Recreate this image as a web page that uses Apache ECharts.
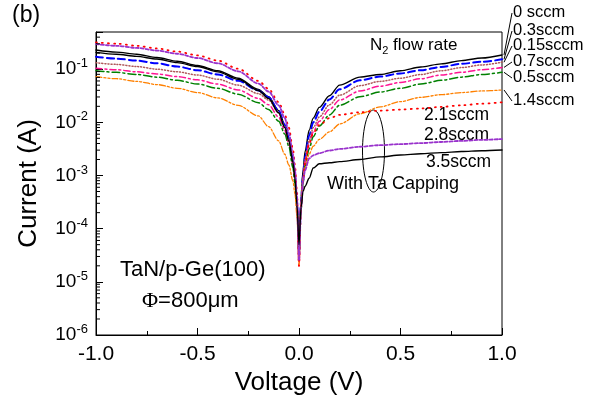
<!DOCTYPE html>
<html>
<head>
<meta charset="utf-8">
<script src="https://cdn.jsdelivr.net/npm/echarts@6/dist/echarts.min.js"></script>
<style>
  html, body { margin: 0; padding: 0; background: #fff; }
  #chart { width: 601px; height: 401px; }
</style>
</head>
<body>
<div id="chart"></div>
<script>
// I-V curves of TaN/p-Ge(100) diodes for several N2 flow rates
const voltage = [-1.0, -0.9, -0.8, -0.7, -0.6, -0.5, -0.4, -0.3, -0.2, -0.15, -0.1, -0.07, -0.05, -0.03, -0.02, -0.01, 0,
    0.01, 0.02, 0.03, 0.05, 0.07, 0.1, 0.15, 0.2, 0.3, 0.4, 0.5, 0.6, 0.7, 0.8, 0.9, 1.0];

const current0 = [0.229, 0.209, 0.191, 0.166, 0.141, 0.117, 0.0933, 0.0676, 0.0417, 0.0302, 0.0166, 0.00891, 0.00501, 0.002, 0.001, 3.16e-4, 3.16e-5,
    3.98e-4, 1.26e-3, 2.82e-3, 7.08e-3, 0.012, 0.0191, 0.0316, 0.0501, 0.0708, 0.0794, 0.0933, 0.11, 0.126, 0.145, 0.162, 0.185];
const current03 = [0.172, 0.158, 0.145, 0.129, 0.112, 0.0955, 0.0794, 0.0603, 0.0398, 0.0295, 0.0166, 0.00891, 0.00501, 0.002, 0.001, 3.16e-4, 3.98e-5,
    3.16e-4, 1e-3, 2.24e-3, 5.62e-3, 0.01, 0.0158, 0.0269, 0.0417, 0.0617, 0.0724, 0.0832, 0.0955, 0.11, 0.126, 0.138, 0.153];
const current015 = [0.132, 0.123, 0.112, 0.1, 0.0891, 0.0776, 0.0646, 0.0501, 0.0347, 0.0263, 0.0151, 0.00832, 0.00447, 0.00178, 8.9e-4, 2.8e-4, 2.5e-5,
    2.8e-4, 8.9e-4, 2.0e-3, 4.47e-3, 7.94e-3, 0.0126, 0.0214, 0.0324, 0.049, 0.0589, 0.0676, 0.0794, 0.0933, 0.107, 0.12, 0.135];
const current07 = [0.104, 0.0977, 0.0891, 0.0813, 0.0724, 0.0631, 0.0525, 0.0407, 0.0282, 0.0214, 0.0126, 0.00708, 0.00398, 0.00158, 7.9e-4, 2.5e-4, 2.0e-5,
    2.5e-4, 7.9e-4, 1.78e-3, 3.8e-3, 6.6e-3, 0.0105, 0.0174, 0.0263, 0.0389, 0.0479, 0.0562, 0.0661, 0.0776, 0.0871, 0.0977, 0.108];
const current05 = [0.0935, 0.0871, 0.0794, 0.0708, 0.0617, 0.0525, 0.0437, 0.0339, 0.0234, 0.0174, 0.0105, 0.00603, 0.00355, 0.00141, 7.1e-4, 2.5e-4, 3.2e-5,
    2.24e-4, 7.1e-4, 1.51e-3, 3.16e-3, 5.37e-3, 8.5e-3, 0.0138, 0.0209, 0.0302, 0.0372, 0.0437, 0.0525, 0.0617, 0.0708, 0.0794, 0.0873];
const current14 = [0.0721, 0.0661, 0.0589, 0.0513, 0.0437, 0.0363, 0.0288, 0.0209, 0.0132, 0.00832, 0.00447, 0.00251, 0.00158, 7.9e-4, 4.5e-4, 1.78e-4, 2.0e-5,
    3.16e-4, 8.9e-4, 1.41e-3, 2.51e-3, 3.55e-3, 4.79e-3, 6.6e-3, 9.3e-3, 0.0145, 0.0195, 0.0245, 0.0295, 0.0331, 0.0363, 0.0389, 0.0406];
const current21 = [0.32, 0.302, 0.275, 0.245, 0.214, 0.182, 0.145, 0.102, 0.0603, 0.0427, 0.024, 0.0141, 0.00794, 0.00316, 0.00158, 5.0e-4, 2.0e-5,
    2.5e-4, 7.9e-4, 1.78e-3, 3.98e-3, 6.3e-3, 8.9e-3, 0.012, 0.0138, 0.0155, 0.0166, 0.0174, 0.0182, 0.0195, 0.0209, 0.0224, 0.0238];
const current28 = [0.297, 0.275, 0.251, 0.224, 0.195, 0.162, 0.129, 0.0912, 0.0537, 0.038, 0.0209, 0.012, 0.0063, 0.00251, 0.00126, 3.98e-4, 2.5e-5,
    2.5e-4, 7.9e-4, 1.26e-3, 2.09e-3, 2.4e-3, 2.63e-3, 2.95e-3, 3.16e-3, 3.47e-3, 3.72e-3, 3.89e-3, 4.07e-3, 4.27e-3, 4.47e-3, 4.68e-3, 4.85e-3];
const current35 = [0.207, 0.191, 0.174, 0.155, 0.133, 0.112, 0.0891, 0.0646, 0.0398, 0.0282, 0.0151, 0.00794, 0.00447, 0.00178, 8.9e-4, 2.8e-4, 5.0e-5,
    2.5e-4, 5.0e-4, 6.3e-4, 8.9e-4, 1.38e-3, 1.66e-3, 1.74e-3, 1.82e-3, 2.0e-3, 2.24e-3, 2.43e-3, 2.57e-3, 2.69e-3, 2.82e-3, 2.92e-3, 3.02e-3];

const flowLabels = ['0 sccm', '0.3sccm', '0.15sccm', '0.7sccm', '0.5sccm', '1.4sccm', '2.1sccm', '2.8sccm', '3.5sccm'];
const yMinorTicks = [
    2e-6, 3e-6, 4e-6, 5e-6, 6e-6, 7e-6, 8e-6, 9e-6,
    2e-5, 3e-5, 4e-5, 5e-5, 6e-5, 7e-5, 8e-5, 9e-5,
    2e-4, 3e-4, 4e-4, 5e-4, 6e-4, 7e-4, 8e-4, 9e-4,
    2e-3, 3e-3, 4e-3, 5e-3, 6e-3, 7e-3, 8e-3, 9e-3,
    2e-2, 3e-2, 4e-2, 5e-2, 6e-2, 7e-2, 8e-2, 9e-2,
    2e-1, 3e-1, 4e-1
];

const FONT = '"Liberation Sans", Arial, sans-serif';

const curveStyles = [
    { data: current0, color: '#000000', width: 1.4, type: 'solid' },
    { data: current03, color: '#0000ff', width: 2, type: [7, 4] },
    { data: current015, color: '#b0585a', width: 1.5, type: [1, 2] },
    { data: current07, color: '#ff1493', width: 1.5, type: [6, 3, 2, 3] },
    { data: current05, color: '#008000', width: 1.5, type: [8, 3, 2, 3] },
    { data: current14, color: '#ff8000', width: 1.3, type: [6, 2, 2, 2, 2, 2] },
    { data: current21, color: '#ff0000', width: 1.8, type: [1, 5] },
    { data: current28, color: '#9932cc', width: 1.8, type: [3, 2] },
    { data: current35, color: '#000000', width: 1.4, type: 'solid' }
];

const chart = echarts.init(document.getElementById('chart'));

const series = curveStyles.map((c, i) => ({
    name: flowLabels[i],
    type: 'line',
    data: voltage.map((v, k) => [v, c.data[k]]),
    showSymbol: false,
    smooth: 0.3,
    smoothMonotone: 'x',
    lineStyle: { color: c.color, width: c.width, type: c.type, cap: 'round' },
    z: 3
}));

// log-spaced minor ticks on the left axis
series.push({
    type: 'custom',
    silent: true,
    clip: false,
    data: yMinorTicks.map(v => [-1, v]),
    encode: { x: 0, y: 1 },
    renderItem: (params, api) => {
        const p = api.coord([api.value(0), api.value(1)]);
        return {
            type: 'line',
            shape: { x1: p[0], y1: p[1], x2: p[0] + 4, y2: p[1] },
            style: { stroke: '#000', lineWidth: 1 }
        };
    },
    z: 5
});

const supLabel = (v) => {
    const e = Math.round(Math.log10(v));
    if (Math.abs(Math.log10(v) - e) > 1e-6) return '';
    return '{b|10}{s|' + e + '}';
};

chart.setOption({
    animation: false,
    backgroundColor: '#fff',
    textStyle: { fontFamily: FONT },
    grid: {
        left: 96, right: 99, top: 32, bottom: 66,
        show: true, borderColor: '#000', borderWidth: 1, backgroundColor: 'transparent'
    },
    xAxis: {
        type: 'value',
        min: -1, max: 1, interval: 0.5,
        name: 'Voltage (V)',
        nameLocation: 'middle',
        nameGap: 34,
        nameTextStyle: { color: '#000', fontSize: 26, fontFamily: FONT },
        axisLine: { onZero: false, lineStyle: { color: '#000', width: 1 } },
        axisTick: { inside: true, length: 7, lineStyle: { color: '#000' } },
        minorTick: { show: true, splitNumber: 2, length: 4, lineStyle: { color: '#000' } },
        splitLine: { show: false },
        axisLabel: {
            color: '#000', fontSize: 21, fontFamily: FONT, margin: 9,
            formatter: v => v.toFixed(1)
        }
    },
    yAxis: {
        type: 'log',
        logBase: 10,
        min: 1e-6, max: 0.5,
        name: 'Current (A)',
        nameLocation: 'middle',
        nameGap: 54,
        nameTextStyle: { color: '#000', fontSize: 26, fontFamily: FONT },
        axisLine: { onZero: false, lineStyle: { color: '#000', width: 1 } },
        axisTick: { inside: true, length: 7, lineStyle: { color: '#000' } },
        splitLine: { show: false },
        axisLabel: {
            color: '#000', margin: 8, fontFamily: FONT,
            formatter: supLabel,
            rich: {
                b: { fontSize: 19, lineHeight: 24, fontFamily: FONT, color: '#000' },
                s: { fontSize: 13, verticalAlign: 'top', lineHeight: 14, fontFamily: FONT, color: '#000' }
            }
        }
    },
    series: series
});

// leader lines from the top curve ends to their labels
const labelY = [13, 31, 46, 62, 78, 101];
const graphics = [];
for (let i = 0; i < 6; i++) {
    const d = curveStyles[i].data;
    const end = chart.convertToPixel({ gridIndex: 0 }, [1.0, d[d.length - 1]]);
    graphics.push({
        type: 'line',
        shape: { x1: end[0] + 2, y1: end[1], x2: 512, y2: labelY[i] },
        style: { stroke: '#000', lineWidth: 1 }
    });
    graphics.push({
        type: 'text', left: 513, top: labelY[i] - 9,
        style: { text: flowLabels[i], font: '16.5px ' + FONT, fill: '#000' }
    });
}

const innerLabels = [
    { text: flowLabels[6], x: 424, y: 116 },
    { text: flowLabels[7], x: 424, y: 136 },
    { text: flowLabels[8], x: 426, y: 163 }
];
innerLabels.forEach(l => graphics.push({
    type: 'text', left: l.x, top: l.y - 10,
    style: { text: l.text, font: '17.5px ' + FONT, fill: '#000' }
}));

graphics.push(
    {
        type: 'text', left: 12, top: 4,
        style: { text: '(b)', font: '23px ' + FONT, fill: '#000' }
    },
    {
        type: 'text', left: 370, top: 37,
        style: {
            text: '{n|N}{sub|2}{n| flow rate}',
            rich: {
                n: { font: '17px ' + FONT, fill: '#000', lineHeight: 20 },
                sub: { font: '11px ' + FONT, fill: '#000', verticalAlign: 'bottom', padding: [10, 0, 0, 0] }
            }
        }
    },
    {
        type: 'text', left: 327, top: 175,
        style: { text: 'With Ta Capping', font: '18px ' + FONT, fill: '#000' }
    },
    {
        type: 'ellipse',
        shape: { cx: 373.5, cy: 151, rx: 11, ry: 41 },
        style: { stroke: '#000', fill: 'none', lineWidth: 1 }
    },
    {
        type: 'text', left: 120, top: 259,
        style: { text: 'TaN/p-Ge(100)', font: '22px ' + FONT, fill: '#000' }
    },
    {
        type: 'text', left: 142, top: 290,
        style: {
            text: '{p|\u03A6}{t|=800\u03BCm}',
            rich: {
                p: { font: '22px "Liberation Serif", serif', fill: '#000' },
                t: { font: '22px ' + FONT, fill: '#000' }
            }
        }
    }
);

chart.setOption({ graphic: graphics });
</script>
</body>
</html>
